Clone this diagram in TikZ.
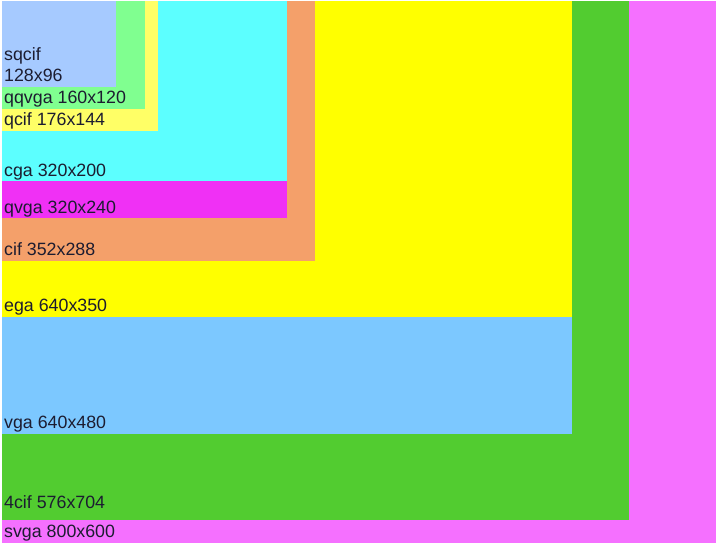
\documentclass[tikz,border=0pt]{standalone}
\usepackage{fontspec}
\setmainfont{Liberation Sans}
\definecolor{csvga}{HTML}{F570FF}
\definecolor{cfourcif}{HTML}{52CC30}
\definecolor{cvga}{HTML}{7CC8FF}
\definecolor{cega}{HTML}{FFFF00}
\definecolor{ccif}{HTML}{F4A06A}
\definecolor{cqvga}{HTML}{F030F5}
\definecolor{ccga}{HTML}{5CFFFF}
\definecolor{cqcif}{HTML}{FFFF66}
\definecolor{cqqvga}{HTML}{80FF90}
\definecolor{csqcif}{HTML}{A6CAFF}
\definecolor{ctext}{HTML}{1C1C30}
\begin{document}
\begin{tikzpicture}[x=1pt,y=-1pt,
  lbl/.style={anchor=base west,inner sep=0pt,text=ctext,font=\fontsize{17.8}{21}\selectfont}]
\useasboundingbox (0,0) rectangle (716,543);
\fill[white] (0,0) rectangle (716,543);
\fill[csvga] (1.5,1.5) rectangle (716,543);
\fill[cfourcif] (1.5,1.5) rectangle (629,520);
\fill[cvga] (1.5,1.5) rectangle (572,434);
\fill[cega] (1.5,1.5) rectangle (572,317);
\fill[ccif] (1.5,1.5) rectangle (315,261);
\fill[cqvga] (1.5,1.5) rectangle (287,218);
\fill[ccga] (1.5,1.5) rectangle (287,181);
\fill[cqcif] (1.5,1.5) rectangle (158,131);
\fill[cqqvga] (1.5,1.5) rectangle (145,109);
\fill[csqcif] (1.5,1.5) rectangle (116,87);
\node[lbl] (sqcifa) at (4,61) {sqcif};
\node[lbl] (sqcifb) at (4,82) {128x96};
\node[lbl] (qqvga) at (4,104) {qqvga 160x120};
\node[lbl] (qcif) at (4,126) {qcif 176x144};
\node[lbl] (cga) at (4,176) {cga 320x200};
\node[lbl] (qvga) at (4,213) {qvga 320x240};
\node[lbl] (cif) at (4,255) {cif 352x288};
\node[lbl] (ega) at (4,311) {ega 640x350};
\node[lbl] (vga) at (4,428) {vga 640x480};
\node[lbl] (fourcif) at (4,508) {4cif 576x704};
\node[lbl] (svga) at (4,537) {svga 800x600};
\end{tikzpicture}
\end{document}
